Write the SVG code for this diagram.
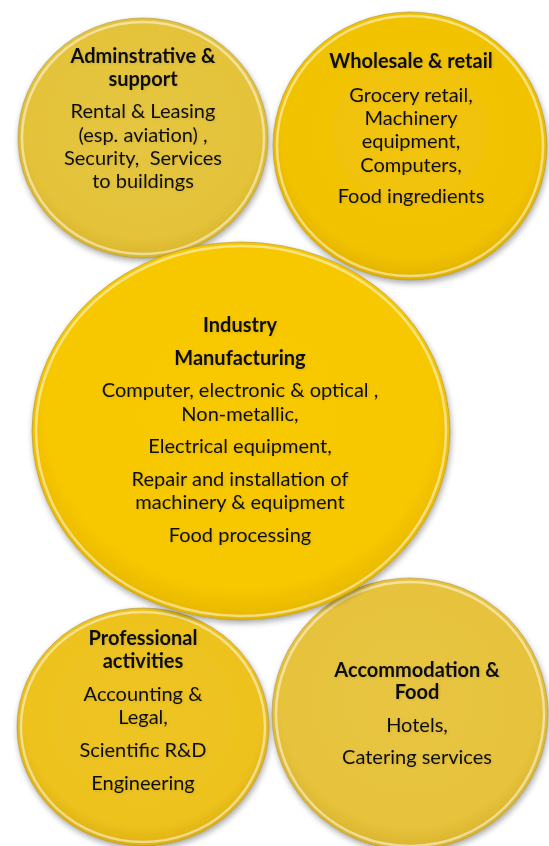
<svg xmlns="http://www.w3.org/2000/svg" width="549" height="846" viewBox="0 0 549 846">
<style>
  .t { font-family: Lato, "Open Sans", "Liberation Sans", sans-serif; font-size: 20px; fill: #111; text-anchor: middle; }
  .b { font-weight: bold; }
  .rim { fill: none; stroke: #ffffff; stroke-opacity: 0.5; stroke-width: 2.5; }
  .edge { fill: none; stroke: #9a8a50; stroke-opacity: 0.5; stroke-width: 1; }
</style>
<defs>
  <radialGradient id="gA" cx="50%" cy="45%" r="55%">
    <stop offset="0" stop-color="#E6C640"/>
    <stop offset="0.85" stop-color="#E4C33A"/>
    <stop offset="1" stop-color="#D9B52A"/>
  </radialGradient>
  <radialGradient id="gW" cx="50%" cy="45%" r="55%">
    <stop offset="0" stop-color="#F2C40A"/>
    <stop offset="0.85" stop-color="#F1C204"/>
    <stop offset="1" stop-color="#E2B200"/>
  </radialGradient>
  <radialGradient id="gI" cx="50%" cy="45%" r="55%">
    <stop offset="0" stop-color="#F8C900"/>
    <stop offset="0.85" stop-color="#F7C700"/>
    <stop offset="1" stop-color="#E6B600"/>
  </radialGradient>
  <radialGradient id="gP" cx="50%" cy="45%" r="55%">
    <stop offset="0" stop-color="#EEC424"/>
    <stop offset="0.85" stop-color="#EDC21E"/>
    <stop offset="1" stop-color="#DDB010"/>
  </radialGradient>
  <radialGradient id="gC" cx="50%" cy="45%" r="55%">
    <stop offset="0" stop-color="#E8C542"/>
    <stop offset="0.85" stop-color="#E7C33C"/>
    <stop offset="1" stop-color="#D8B32C"/>
  </radialGradient>
  <filter id="sh" x="-10%" y="-10%" width="120%" height="125%">
    <feGaussianBlur in="SourceAlpha" stdDeviation="3"/>
    <feOffset dx="1" dy="3" result="o"/>
    <feComponentTransfer><feFuncA type="linear" slope="0.35"/></feComponentTransfer>
    <feMerge><feMergeNode/><feMergeNode in="SourceGraphic"/></feMerge>
  </filter>
  <filter id="ts" x="-5%" y="-30%" width="110%" height="160%">
    <feGaussianBlur in="SourceAlpha" stdDeviation="1.5"/>
    <feOffset dx="1" dy="1"/>
    <feComponentTransfer><feFuncA type="linear" slope="0.12"/></feComponentTransfer>
    <feMerge><feMergeNode/><feMergeNode in="SourceGraphic"/></feMerge>
  </filter>
</defs>
<rect width="549" height="846" fill="#ffffff"/>

<g id="admin">
  <ellipse cx="143" cy="138" rx="125" ry="120" fill="url(#gA)" filter="url(#sh)"/>
  <ellipse cx="143" cy="138" rx="121" ry="116" class="rim"/>
  <ellipse cx="143" cy="138" rx="125" ry="120" class="edge"/>
  <g filter="url(#ts)">
    <text class="t b" x="143" y="63">Adminstrative &amp;</text>
    <text class="t b" x="143" y="86">support</text>
    <text class="t" x="143" y="118">Rental &amp; Leasing</text>
    <text class="t" x="143" y="142">(esp. aviation) ,</text>
    <text class="t" x="143" y="165" xml:space="preserve">Security,  Services</text>
    <text class="t" x="143" y="188">to buildings</text>
  </g>
</g>

<g id="wholesale">
  <ellipse cx="410" cy="146" rx="137" ry="134" fill="url(#gW)" filter="url(#sh)"/>
  <ellipse cx="410" cy="146" rx="133" ry="130" class="rim"/>
  <ellipse cx="410" cy="146" rx="137" ry="134" class="edge"/>
  <g filter="url(#ts)">
    <text class="t b" x="411" y="68">Wholesale &amp; retail</text>
    <text class="t" x="411" y="102">Grocery retail,</text>
    <text class="t" x="411" y="125">Machinery</text>
    <text class="t" x="411" y="148">equipment,</text>
    <text class="t" x="411" y="172">Computers,</text>
    <text class="t" x="411" y="203">Food ingredients</text>
  </g>
</g>

<g id="professional">
  <ellipse cx="143" cy="727" rx="126" ry="119" fill="url(#gP)" filter="url(#sh)"/>
  <ellipse cx="143" cy="727" rx="122" ry="115" class="rim"/>
  <ellipse cx="143" cy="727" rx="126" ry="119" class="edge"/>
  <g filter="url(#ts)">
    <text class="t b" x="143" y="645">Professional</text>
    <text class="t b" x="143" y="668">activities</text>
    <text class="t" x="143" y="701">Accounting &amp;</text>
    <text class="t" x="143" y="724">Legal,</text>
    <text class="t" x="143" y="757">Scientific R&amp;D</text>
    <text class="t" x="143" y="790">Engineering</text>
  </g>
</g>

<g id="accommodation">
  <ellipse cx="410" cy="714" rx="138" ry="136" fill="url(#gC)" filter="url(#sh)"/>
  <ellipse cx="410" cy="714" rx="134" ry="132" class="rim"/>
  <ellipse cx="410" cy="714" rx="138" ry="136" class="edge"/>
  <g filter="url(#ts)">
    <text class="t b" x="417" y="677">Accommodation &amp;</text>
    <text class="t b" x="417" y="699">Food</text>
    <text class="t" x="417" y="732">Hotels,</text>
    <text class="t" x="417" y="764">Catering services</text>
  </g>
</g>

<g id="industry">
  <ellipse cx="241" cy="431" rx="209" ry="189" fill="url(#gI)" filter="url(#sh)"/>
  <ellipse cx="241" cy="431" rx="205" ry="185" class="rim"/>
  <ellipse cx="241" cy="431" rx="209" ry="189" class="edge"/>
  <g filter="url(#ts)">
    <text class="t b" x="240" y="332">Industry</text>
    <text class="t b" x="240" y="365">Manufacturing</text>
    <text class="t" x="240" y="397">Computer, electronic &amp; optical ,</text>
    <text class="t" x="240" y="421">Non-metallic,</text>
    <text class="t" x="240" y="453">Electrical equipment,</text>
    <text class="t" x="240" y="486">Repair and installation of</text>
    <text class="t" x="240" y="509">machinery &amp; equipment</text>
    <text class="t" x="240" y="542">Food processing</text>
  </g>
</g>

<g id="connectors"></g>
</svg>
